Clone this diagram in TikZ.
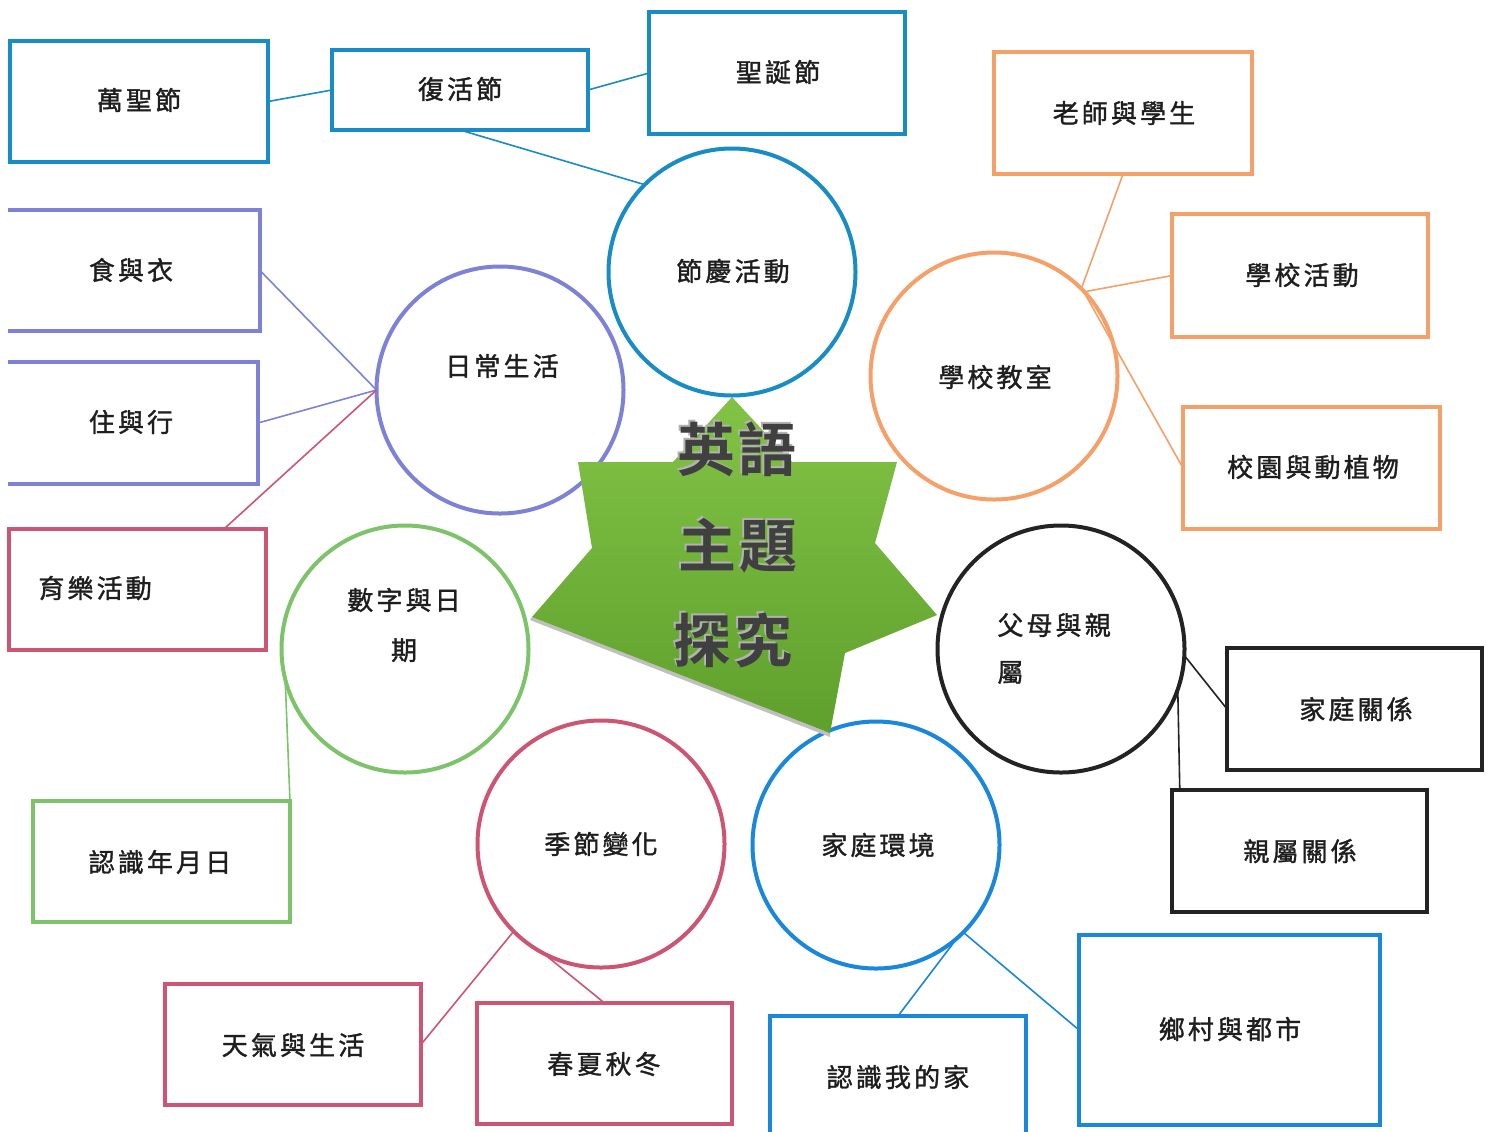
\documentclass[tikz,border=0pt]{standalone}
\usepackage{fontspec}
\newfontfamily\cjk[LetterSpace=12, BoldFont={Noto Sans CJK TC}, BoldFeatures={FakeBold=1.3}]{Noto Sans CJK TC}
\newfontfamily\cjkbold[LetterSpace=4]{Noto Sans CJK TC Bold}
\definecolor{cfest}{RGB}{24,140,196}
\definecolor{cdaily}{RGB}{125,130,215}
\definecolor{cschool}{RGB}{245,160,105}
\definecolor{cpink}{RGB}{205,85,115}
\definecolor{cgreen}{RGB}{125,195,105}
\definecolor{cblack}{RGB}{35,35,35}
\definecolor{chome}{RGB}{25,135,220}
\definecolor{ctxt}{RGB}{30,30,30}
\definecolor{gtop}{RGB}{130,195,70}
\definecolor{gbot}{RGB}{95,160,45}
\begin{document}
\begin{tikzpicture}[x=0.5pt,y=-0.5pt,
  bx/.style={rectangle, line width=2pt, inner sep=0pt, outer sep=0pt},
  cc/.style={circle, draw, fill=white, line width=2pt, inner sep=0pt, outer sep=0pt, minimum size=123.5pt},
  lbl/.style={font=\cjk\bfseries\fontsize{13}{15}\selectfont, text=ctxt, inner sep=0pt},
  big/.style={font=\cjkbold\fontsize{29}{30}\selectfont, inner sep=0pt},
  ln/.style={line width=0.8pt}]
\useasboundingbox (0,0) rectangle (1493,1131);
\fill[white] (0,0) rectangle (1493,1131);

% ---- circles
\node[cc, draw=cfest]   (fest)    at (732,272) {};
\node[cc, draw=cdaily]  (daily)   at (500,390) {};
\node[cc, draw=cschool] (school)  at (994,376) {};
\node[cc, draw=cgreen]  (dates)   at (405,649) {};
\node[cc, draw=cblack]  (parents) at (1061,649) {};
\node[cc, draw=cpink]   (seasons) at (601,844) {};
\node[cc, draw=chome]   (home)    at (876,845) {};

% ---- star
\fill[gray!50] (532,617) -- (830,733) -- (830,737) -- (530,620) -- cycle;
\shade[top color=gtop, bottom color=gbot] (732,397) -- (792,462) -- (897,462) -- (875,543) -- (937,615) -- (845,653) -- (830,733) -- (532,617) -- (592,548) -- (578,462) -- (673,462) -- cycle;
\node[big, text=gray!60] at (735,447) {英語};
\node[big, text=gray!60] at (736,544) {主題};
\node[big, text=gray!60] at (731,639) {探究};
\node[big, text=ctxt!85] (t1) at (737,449) {英語};
\node[big, text=ctxt!85] (t2) at (738,546) {主題};
\node[big, text=ctxt!85] (t3) at (733,641) {探究};

% ---- boxes
\node[bx, draw=cfest, minimum width=129pt, minimum height=60.5pt] (hallow) at (139,101.5) {};
\node[bx, draw=cfest, minimum width=128pt, minimum height=40pt] (easter) at (460,90) {};
\node[bx, draw=cfest, minimum width=128pt, minimum height=61pt] (xmas) at (777,73) {};
\node[bx, draw=cschool, minimum width=129pt, minimum height=61pt] (teach) at (1123,113) {};
\node[bx, draw=cschool, minimum width=128pt, minimum height=61.5pt] (schact) at (1300,275.5) {};
\node[bx, draw=cschool, minimum width=128.5pt, minimum height=61pt] (campus) at (1311.5,468) {};
\node[bx, minimum width=126pt, minimum height=60.5pt] (food) at (134,270.5) {};
\node[bx, minimum width=125pt, minimum height=61pt] (live) at (133,423) {};
\node[bx, draw=cpink, minimum width=128.5pt, minimum height=60.5pt] (recr) at (137.5,589.5) {};
\node[bx, draw=cgreen, minimum width=128.5pt, minimum height=60.5pt] (ymd) at (161.5,861.5) {};
\node[bx, draw=cpink, minimum width=128pt, minimum height=60.5pt] (weather) at (293,1044.5) {};
\node[bx, draw=cpink, minimum width=127.5pt, minimum height=60.5pt] (fourseas) at (604.5,1063.5) {};
\node[bx, minimum width=128pt, minimum height=62pt] (myhome) at (898,1078) {};
\node[bx, draw=chome, minimum width=150.5pt, minimum height=95pt] (city) at (1229.5,1030) {};
\node[bx, draw=cblack, minimum width=127.5pt, minimum height=61pt] (famrel) at (1354.5,709) {};
\node[bx, draw=cblack, minimum width=127.5pt, minimum height=61pt] (relrel) at (1299.5,851) {};
\draw[cdaily, line width=2pt] (food.north west) -- (food.north east) -- (food.south east) -- (food.south west);
\draw[cdaily, line width=2pt] (live.north west) -- (live.north east) -- (live.south east) -- (live.south west);
\draw[chome, line width=2pt] (myhome.south west) -- (myhome.north west) -- (myhome.north east) -- (myhome.south east);

% ---- box labels
\node[lbl] (l1) at (139,100) {萬聖節};
\node[lbl] (l2) at (460,89) {復活節};
\node[lbl] (l3) at (778,72) {聖誕節};
\node[lbl] (l4) at (1124,113) {老師與學生};
\node[lbl] (l5) at (1302,275) {學校活動};
\node[lbl] (l6) at (1313,467) {校園與動植物};
\node[lbl] (l7) at (131,270) {食與衣};
\node[lbl] (l8) at (131,422) {住與行};
\node[lbl, anchor=west] (l9) at (38,588) {育樂活動};
\node[lbl] (l10) at (160,862) {認識年月日};
\node[lbl] (l11) at (293,1045) {天氣與生活};
\node[lbl] (l12) at (604,1064) {春夏秋冬};
\node[lbl] (l13) at (898,1077) {認識我的家};
\node[lbl] (l14) at (1230,1029) {鄉村與都市};
\node[lbl] (l15) at (1356,709) {家庭關係};
\node[lbl] (l16) at (1300,851) {親屬關係};

% ---- circle labels
\node[lbl] (c1) at (733,271) {節慶活動};
\node[lbl] (c2) at (502,366) {日常生活};
\node[lbl] (c3) at (995,377) {學校教室};
\node[lbl, align=center, font=\cjk\bfseries\fontsize{13}{25}\selectfont] (c4) at (404,625) {數字與日\\期};
\node[lbl, align=left, anchor=west, font=\cjk\bfseries\fontsize{13}{23.5}\selectfont] (c5) at (997,648.5) {父母與親\\屬};
\node[lbl] (c6) at (601,844) {季節變化};
\node[lbl] (c7) at (878,845) {家庭環境};

% ---- connectors
\draw[ln, cfest] (hallow.east) -- (easter.west);
\draw[ln, cfest] (easter.east) -- (xmas.west);
\draw[ln, cfest] (easter.south) -- (fest.135);
\draw[ln, cschool] (teach.south) -- (school.45);
\draw[ln, cschool] (schact.west) -- (school.43);
\draw[ln, cschool] (campus.west) -- (school.44);
\draw[ln, cdaily] (food.east) -- (daily.west);
\draw[ln, cdaily] (live.east) -- (daily.west);
\draw[ln, cpink] (recr.35.6) -- (daily.west);
\draw[ln, cgreen] (ymd.25.7) -- (dates.194);
\draw[ln, cpink] (weather.east) -- (seasons.225);
\draw[ln, cpink] (fourseas.north) -- (seasons.242);
\draw[ln, chome] (myhome.north) -- (home.-49);
\draw[ln, chome] (city.west) -- (home.-45);
\draw[ln, cblack] (famrel.west) -- (parents.-3);
\draw[ln, cblack] (relrel.153.7) -- (parents.-19);
\end{tikzpicture}
\end{document}
